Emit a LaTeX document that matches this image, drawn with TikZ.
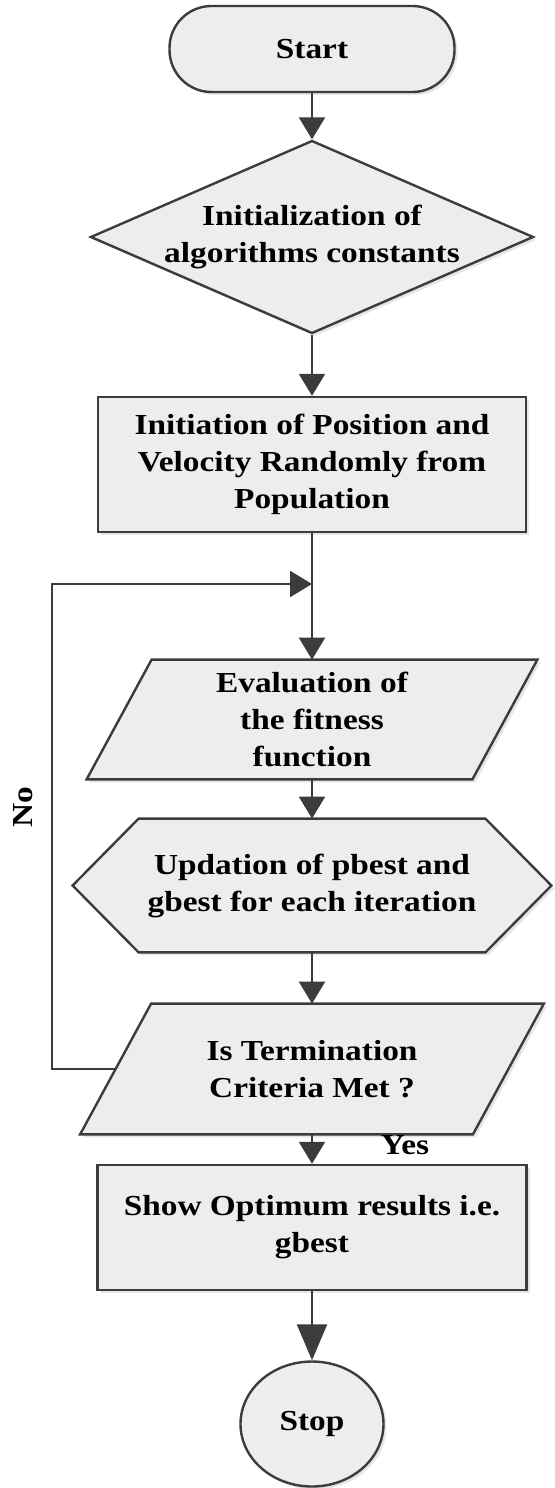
\documentclass[tikz,border=0pt]{standalone}
\usepackage{fontspec}
\setmainfont{Liberation Serif}[FakeStretch=1.15]
\usetikzlibrary{shapes.geometric,arrows.meta,shadows,backgrounds}
\definecolor{linegray}{HTML}{3C3C3C}
\definecolor{boxgray}{HTML}{EDEDED}

\begin{document}
\begin{tikzpicture}[x=0.5pt,y=-0.5pt,
    font=\fontsize{14.5}{18.5}\selectfont\bfseries,
    box/.style={draw=linegray,line width=1.2pt,fill=boxgray,align=center,
        drop shadow={opacity=0.2,shadow xshift=1.5pt,shadow yshift=-1.5pt}},
    txt/.style={align=center,inner sep=2pt},
    link/.style={draw=linegray,line width=1.2pt,
        -{Triangle[width=13pt,length=11pt]}}]
    \useasboundingbox (0,0) rectangle (554,1488);

    \node[box,rounded corners=21pt,minimum width=142.5pt,minimum height=43pt]
        (start) at (312,49) {Start};
    \node[box,diamond,aspect=2.3,inner sep=0pt,
        minimum width=221.5pt,minimum height=96.5pt]
        (init) at (312,237) {Initialization of\\algorithms constants};
    \node[box,minimum width=214pt,minimum height=67.5pt]
        (pop) at (312,464.5)
        {Initiation of Position and\\Velocity Randomly from\\Population};
    \node[txt,minimum width=192.5pt,minimum height=59.5pt]
        (eval) at (312,719.5) {Evaluation of\\the fitness\\function};
    \node[txt,minimum width=173pt,minimum height=66.5pt]
        (upd) at (312,885.5) {Updation of pbest and\\gbest for each iteration};
    \node[txt,minimum width=196pt,minimum height=65pt]
        (term) at (312,1069) {Is Termination\\Criteria Met ?};
    \node[box,minimum width=214.5pt,minimum height=62.5pt]
        (show) at (312,1227.5) {Show Optimum results i.e.\\gbest};
    \node[box,ellipse,minimum width=71.5pt,minimum height=62.5pt]
        (stop) at (312,1424) {Stop};

    \begin{scope}[on background layer]
        \draw[box] ([xshift=16.25pt]eval.north west)
            -- ([xshift=16.25pt]eval.north east)
            -- ([xshift=-16.25pt]eval.south east)
            -- ([xshift=-16.25pt]eval.south west) -- cycle;
        \draw[box] (upd.north west) -- (upd.north east)
            -- ([xshift=33pt]upd.east) -- (upd.south east)
            -- (upd.south west) -- ([xshift=-33pt]upd.west) -- cycle;
        \draw[box] ([xshift=17.75pt]term.north west)
            -- ([xshift=17.75pt]term.north east)
            -- ([xshift=-17.75pt]term.south east)
            -- ([xshift=-17.75pt]term.south west) -- cycle;
    \end{scope}

    \coordinate (join) at (312,584);
    \coordinate (back) at (52,584);

    \draw[link] (start) -- (init);
    \draw[link] (init) -- (pop);
    \draw[link] (pop) -- (eval);
    \draw[link] (eval) -- (upd);
    \draw[link] (upd) -- (term);
    \draw[link] (term) -- (show);
    \draw[link,-{Triangle[width=15pt,length=18pt]}] (show) -- (stop);
    \draw[link] (term.west) -| (back) -- (join);

    \node[rotate=90] (no) at (23,807) {No};
    \node (yes) at (405,1145) {Yes};
\end{tikzpicture}
\end{document}
